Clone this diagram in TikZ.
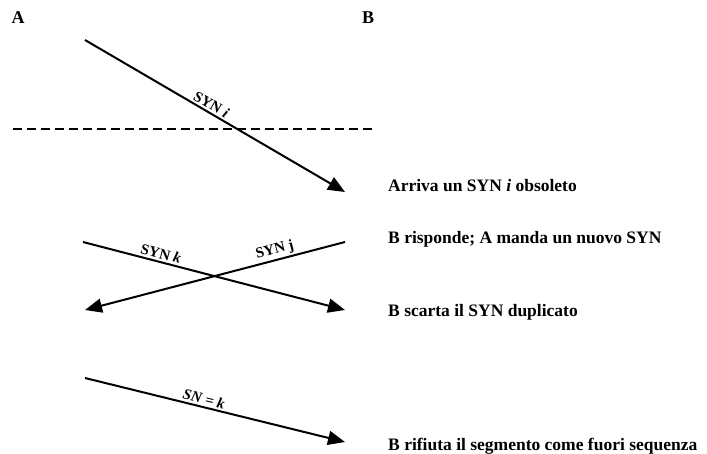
\documentclass[tikz,border=0pt]{standalone}
\usepackage{fontspec}
\setmainfont{Liberation Serif}
\usetikzlibrary{arrows.meta}
\tikzset{
  msg/.style={line width=2pt,-{Triangle[length=17pt,width=14pt]}},
  lbl/.style={font=\bfseries\fontsize{15}{17}\selectfont, sloped, above, inner sep=2pt},
  note/.style={font=\bfseries\fontsize{17.5}{20}\selectfont, anchor=west, inner sep=0pt},
  hdr/.style={font=\bfseries\fontsize{18}{20}\selectfont, inner sep=0pt}
}
\begin{document}
\begin{tikzpicture}[x=1pt,y=-1pt]
\useasboundingbox (0,0) rectangle (707,453);
\node[hdr] (A) at (18,18) {A};
\node[hdr] (B) at (368,18) {B};
% first SYN
\coordinate (s1) at (85,40);
\coordinate (e1) at (345,192);
\draw[msg] (s1) -- node[lbl, pos=0.47] {SYN \textit{i}} (e1);
\coordinate (d1) at (13,129);
\coordinate (d2) at (374,129);
\draw[line width=2pt, dash pattern=on 9pt off 5pt] (d1) -- (d2);
% crossing
\coordinate (s2) at (83,242);
\coordinate (e2) at (345,310);
\coordinate (s3) at (345,242);
\coordinate (e3) at (85,310);
\draw[msg] (s2) -- node[lbl, pos=0.29] {SYN \textit{k}} (e2);
\draw[msg] (s3) -- node[lbl, pos=0.26] {SYN j} (e3);
% bottom
\coordinate (s4) at (85,378);
\coordinate (e4) at (345,442);
\draw[msg] (s4) -- node[lbl, pos=0.45] {\textit{SN = k}} (e4);
% notes
\node[note] (n1) at (388,186) {Arriva un SYN \textit{i} obsoleto};
\node[note] (n2) at (388,239) {B risponde; A manda un nuovo SYN};
\node[note] (n3) at (388,312) {B scarta il SYN duplicato};
\node[note] (n4) at (388,446) {B rifiuta il segmento come fuori sequenza};
\end{tikzpicture}
\end{document}
